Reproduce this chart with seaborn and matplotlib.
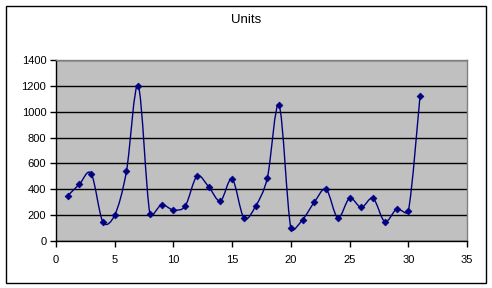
import numpy as np
import pandas as pd
import matplotlib
matplotlib.use("Agg")
import matplotlib.pyplot as plt
import seaborn as sns
from matplotlib.path import Path
from matplotlib.patches import PathPatch, Rectangle

# ---- data ----
days = list(range(1, 32))
units = [350, 440, 520, 145, 200, 540, 1200, 210, 280, 240, 270, 500, 420, 310,
         480, 180, 270, 490, 1050, 100, 165, 300, 400, 180, 330, 260, 330, 150,
         245, 230, 1120]
x_ticks = [0, 5, 10, 15, 20, 25, 30, 35]
y_ticks = [0, 200, 400, 600, 800, 1000, 1200, 1400]
title = "Units"

df = pd.DataFrame({"day": days, "units": units})

sns.set_style("white")
plt.rcParams["font.family"] = ["Liberation Sans", "DejaVu Sans"]

W, H = 492, 288
fig = plt.figure(figsize=(W / 100, H / 100), dpi=100)
fig.patch.set_facecolor("white")

# outer chart border
fig.patches.append(Rectangle((5.5 / W, 1 - 282.5 / H), (486 - 5.5) / W, (282.5 - 5.5) / H,
                             transform=fig.transFigure, fill=False,
                             edgecolor="black", lw=1))

ax = fig.add_axes([56 / W, 47 / H, 411 / W, 181 / H])
ax.set_facecolor("#C0C0C0")
ax.set_xlim(0, 35)
ax.set_ylim(0, 1400)

# smoothed connecting line (Excel-style Bezier smoothing: Catmull-Rom
# handles, capped relative to the segment length in screen space)
pts = df[["day", "units"]].to_numpy(dtype=float)
scr = ax.transData.transform(pts)
n = len(pts)
K = 0.5


def seglen(a, b):
    return float(np.hypot(*(scr[a] - scr[b])))


verts = [tuple(pts[0])]
codes = [Path.MOVETO]
for i in range(n - 1):
    i0 = i - 1 if i > 0 else i
    i3 = i + 2 if i + 2 < n else i + 1
    d12 = seglen(i, i + 1)
    h1 = seglen(i0, i + 1) / 6.0
    h2 = seglen(i, i3) / 6.0
    w1 = (1 / 6.0) * (min(1.0, K * d12 / h1) if h1 > 0 else 1.0)
    w2 = (1 / 6.0) * (min(1.0, K * d12 / h2) if h2 > 0 else 1.0)
    c1 = pts[i] + (pts[i + 1] - pts[i0]) * w1
    c2 = pts[i + 1] - (pts[i3] - pts[i]) * w2
    verts += [tuple(c1), tuple(c2), tuple(pts[i + 1])]
    codes += [Path.CURVE4] * 3
ax.add_patch(PathPatch(Path(verts, codes), fill=False, edgecolor="#000080",
                       lw=1.0, zorder=3))

sns.scatterplot(data=df, x="day", y="units", marker="D", s=12, color="#000080",
                edgecolor="#000080", linewidth=0.5, ax=ax, zorder=4, legend=False)

ax.set_xlim(0, 35)
ax.set_ylim(0, 1400)
ax.set_xticks(x_ticks)
ax.set_yticks(y_ticks)
ax.set_xlabel("")
ax.set_ylabel("")
ax.yaxis.grid(True, color="black", lw=1)
ax.xaxis.grid(False)
ax.set_axisbelow(True)

for s in ["left", "bottom"]:
    ax.spines[s].set_color("black")
    ax.spines[s].set_linewidth(1)
for s in ["top", "right"]:
    ax.spines[s].set_color("#808080")
    ax.spines[s].set_linewidth(1)

ax.tick_params(axis="both", direction="out", length=4, width=1, color="black",
               labelsize=8, labelcolor="black", pad=3,
               left=True, bottom=True)
ax.tick_params(axis="x", pad=6)

fig.text(246 / W, 1 - 20 / H, title, ha="center", va="center", fontsize=9.5,
         color="black")

fig.savefig("out.png", dpi=100)
